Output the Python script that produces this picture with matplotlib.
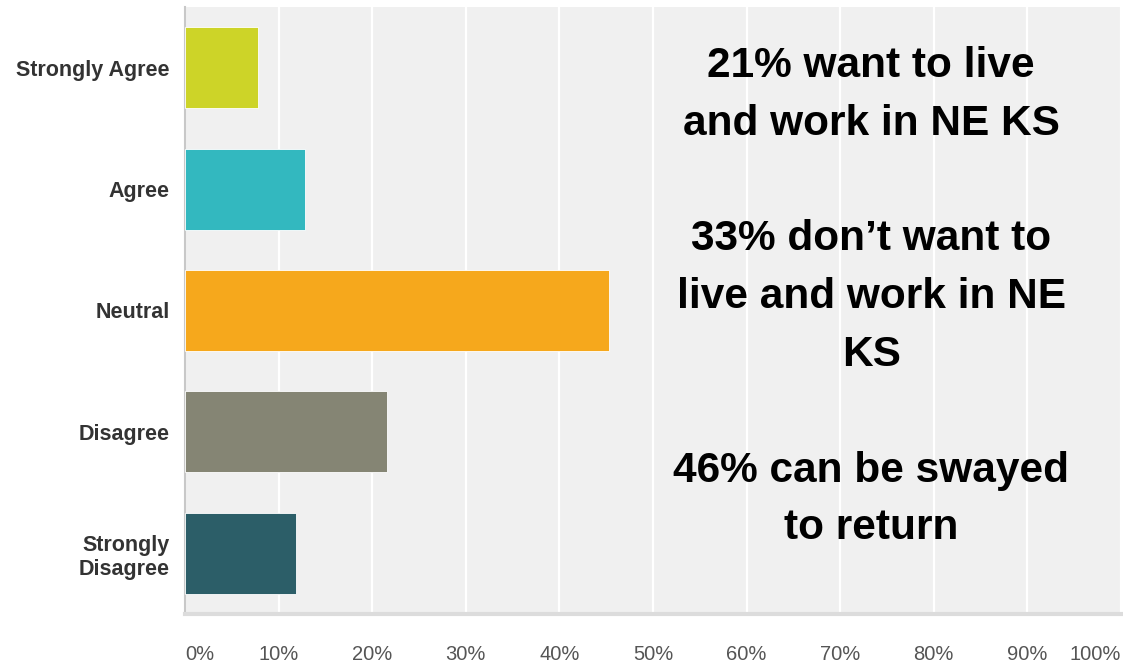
import matplotlib
matplotlib.use("Agg")
import matplotlib.pyplot as plt
import numpy as np

# survey answers, top to bottom
categories = ["Strongly Agree", "Agree", "Neutral", "Disagree", "Strongly\nDisagree"]
values = [7.8, 12.8, 45.3, 21.6, 11.9]          # percent of responses
colors = ["#cdd428", "#33b8bf", "#f6a81c", "#858574", "#2c5e68"]
xticks = [0, 10, 20, 30, 40, 50, 60, 70, 80, 90, 100]
xtick_labels = [f"{t}%" for t in xticks]
note_lines = [
    "21% want to live\nand work in NE KS",
    "33% don\u2019t want to\nlive and work in NE\nKS",
    "46% can be swayed\nto return",
]

plt.rcParams["font.family"] = ["Liberation Sans", "DejaVu Sans"]

fig = plt.figure(figsize=(11.23, 6.65), dpi=100)
ax = fig.add_axes([185 / 1123, 1 - 614 / 665, (1121 - 185) / 1123, (614 - 7) / 665])
ax.set_facecolor("#f0f0f0")

y = np.arange(len(categories))
ax.barh(y, values, height=0.667, color=colors, edgecolor="white",
        linewidth=0.6, zorder=3)
ax.set_ylim(len(categories) - 0.5, -0.5)
ax.set_xlim(0, 100)

ax.set_yticks(y)
ax.set_yticklabels(categories, fontsize=15.5, fontweight="bold", color="#333333",
                   linespacing=1.2)
ax.set_xticks(xticks)
ax.set_xticklabels(xtick_labels, fontsize=14.5, color="#555555")
ax.tick_params(axis="y", length=0, pad=11)
ax.tick_params(axis="x", length=0, pad=22)
labels = ax.get_xticklabels()
labels[0].set_horizontalalignment("left")
labels[-1].set_horizontalalignment("right")

ax.grid(axis="x", color="white", linewidth=1.6, zorder=1)
ax.grid(axis="y", visible=False)
for side in ["top", "right"]:
    ax.spines[side].set_visible(False)
ax.spines["left"].set_color("#c8c8c8")
ax.spines["left"].set_linewidth(1.5)
ax.spines["bottom"].set_color("#dcdcdc")
ax.spines["bottom"].set_linewidth(3)

ax.text(0.733, 0.522, "\n\n".join(note_lines), transform=ax.transAxes,
        ha="center", va="center", fontsize=30.5, fontweight="bold",
        color="black", linespacing=1.575, zorder=5)

fig.savefig("out.png", dpi=100)
